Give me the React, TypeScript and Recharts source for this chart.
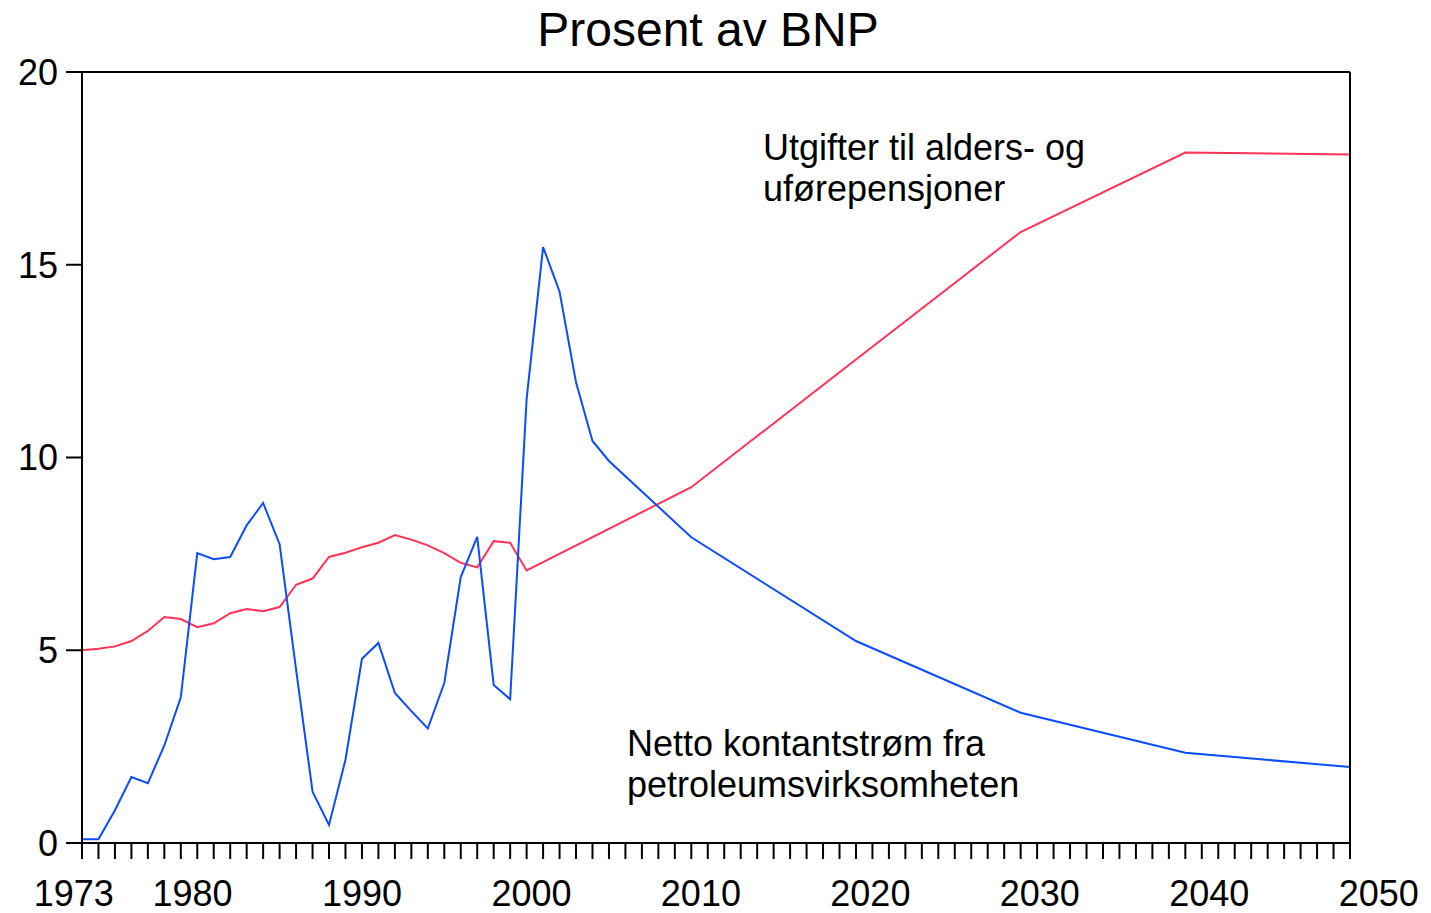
import React from "react";
import { LineChart, Line, XAxis, YAxis, ReferenceLine } from "recharts";

// years with data; annual history, then every ten years in the projection
const years = [
  1973, 1974, 1975, 1976, 1977, 1978, 1979, 1980, 1981, 1982, 1983, 1984, 1985,
  1986, 1987, 1988, 1989, 1990, 1991, 1992, 1993, 1994, 1995, 1996, 1997, 1998,
  1999, 2000, 2001, 2002, 2003, 2004, 2005, 2010, 2020, 2030, 2040, 2050,
];

// Netto kontantstrøm fra petroleumsvirksomheten
const petroleum = [
  0.1, 0.1, 0.85, 1.71, 1.55, 2.53, 3.78, 7.52, 7.36, 7.42, 8.24, 8.82, 7.75,
  4.5, 1.33, 0.47, 2.16, 4.78, 5.19, 3.89, 3.42, 2.97, 4.15, 6.9, 7.94, 4.1,
  3.73, 11.52, 15.46, 14.3, 11.95, 10.43, 9.91, 7.93, 5.24, 3.38, 2.34, 1.97,
];

// Utgifter til alders- og uførepensjoner
const pensions = [
  5.0, 5.04, 5.1, 5.24, 5.5, 5.86, 5.81, 5.6, 5.7, 5.96, 6.07, 6.01, 6.12,
  6.7, 6.86, 7.42, 7.53, 7.67, 7.79, 7.99, 7.87, 7.72, 7.52, 7.27, 7.15, 7.83,
  7.79, 7.07, null, null, null, null, null, 9.23, 12.54, 15.85, 17.91, 17.86,
];

const yTicks = [0, 5, 10, 15, 20];
const xLabels = [1973, 1980, 1990, 2000, 2010, 2020, 2030, 2040, 2050];
const xTicks = Array.from({ length: 2050 - 1973 + 1 }, (_, i) => 1973 + i);

const data = years.map((year, i) => ({
  year,
  petroleum: petroleum[i],
  pensions: pensions[i],
}));

const font = "'Liberation Sans', Arial, Helvetica, sans-serif";
const tickStyle = { fontSize: 36, fill: "#000", fontFamily: font };

// year labels in the original sit on a slightly wider spacing than the tick marks
function YearTick(props: any) {
  const { x, y, payload } = props;
  const v = payload.value as number;
  if (!xLabels.includes(v)) return null;
  const dx = (v - 1990) * 0.48;
  return (
    <text x={x + dx} y={y} dy="0.71em" textAnchor="middle" {...tickStyle}>
      {v}
    </text>
  );
}

export default function App() {
  return (
    <div style={{ position: "absolute", left: 0, top: 0, width: 1431, height: 913, background: "#fff" }}>
      <LineChart
        width={1431}
        height={913}
        data={data}
        margin={{ top: 72, right: 11, left: 12, bottom: 0 }}
      >
        <XAxis
          dataKey="year"
          type="number"
          domain={[1973, 2050]}
          ticks={xTicks}
          interval={0}
          tick={<YearTick />}
          tickSize={16}
          tickMargin={21}
          height={70}
          axisLine={{ stroke: "#000", strokeWidth: 2 }}
          tickLine={{ stroke: "#000", strokeWidth: 2 }}
        />
        <YAxis
          yAxisId="left"
          domain={[0, 20]}
          ticks={yTicks}
          interval={0}
          tick={tickStyle}
          tickSize={16}
          tickMargin={8}
          width={70}
          axisLine={{ stroke: "#000", strokeWidth: 2 }}
          tickLine={{ stroke: "#000", strokeWidth: 2 }}
        />
        <YAxis
          yAxisId="right"
          orientation="right"
          domain={[0, 20]}
          ticks={yTicks}
          interval={0}
          tick={tickStyle}
          tickSize={16}
          tickMargin={8}
          width={70}
          axisLine={{ stroke: "#000", strokeWidth: 2 }}
          tickLine={{ stroke: "#000", strokeWidth: 2 }}
        />
        <ReferenceLine yAxisId="left" y={20} stroke="#000" strokeWidth={2} />
        <Line
          yAxisId="left"
          type="linear"
          dataKey="pensions"
          stroke="#ff3355"
          strokeWidth={2}
          dot={false}
          connectNulls
          isAnimationActive={false}
        />
        <Line
          yAxisId="left"
          type="linear"
          dataKey="petroleum"
          stroke="#0a4cff"
          strokeWidth={2}
          dot={false}
          connectNulls
          isAnimationActive={false}
        />
      </LineChart>
      <svg
        width={1431}
        height={913}
        style={{ position: "absolute", left: 0, top: 0, pointerEvents: "none" }}
      >
        <g fontFamily={font} fill="#000">
          <text x={708} y={46} fontSize={48} textAnchor="middle">Prosent av BNP</text>
          <text x={763} y={160} fontSize={36}>Utgifter til alders- og</text>
          <text x={763} y={201} fontSize={36}>uførepensjoner</text>
          <text x={627} y={756} fontSize={36}>Netto kontantstrøm fra</text>
          <text x={627} y={797} fontSize={36}>petroleumsvirksomheten</text>
        </g>
      </svg>
    </div>
  );
}
